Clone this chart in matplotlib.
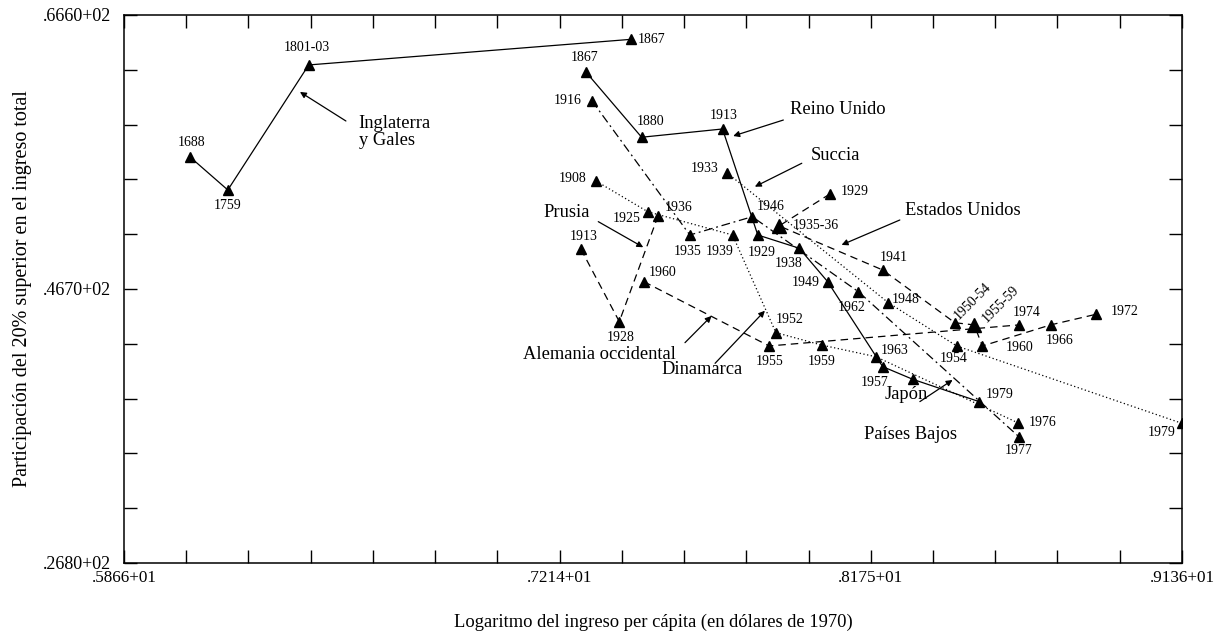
import numpy as np
import matplotlib.pyplot as plt

plt.rcParams['font.family'] = ['Liberation Serif', 'DejaVu Serif']

# Inglaterra y Gales
eng_x = [6.071, 6.187, 6.437, 7.433]
eng_y = [56.27, 53.89, 62.97, 64.83]
eng_lab = ['1688', '1759', '1801-03', '1867']

# Reino Unido
uk_x = [7.293, 7.466, 7.716, 7.825, 7.953, 8.041, 8.211, 8.304, 8.509]
uk_y = [62.48, 57.72, 58.32, 50.62, 49.66, 47.23, 41.06, 40.14, 38.52]
uk_lab = ['1867', '1880', '1913', '1929', '1938', '1949', '1957', '', '1979']

# Prusia
pru_x = [7.278, 7.397, 7.517]
pru_y = [49.61, 44.33, 52.02]
pru_lab = ['1913', '1928', '1936']

# Alemania occidental
wg_x = [7.473, 7.860, 8.632]
wg_y = [47.23, 42.56, 44.09]
wg_lab = ['1960', '1955', '1974']

# Estados Unidos
us_x = [8.048, 7.891, 8.211, 8.434, 8.494, 8.519, 8.730, 8.870]
us_y = [53.60, 51.28, 48.08, 44.25, 44.09, 42.56, 44.09, 44.86]
us_lab = ['1929', '1935-36', '1941', '1950-54', '1955-59', '1960', '1966', '1972']

# Dinamarca
den_x = [7.325, 7.485, 7.747, 7.881, 8.022, 8.190, 8.628]
den_y = [54.54, 52.31, 50.62, 43.53, 42.63, 41.78, 36.99]
den_lab = ['1908', '1925', '1939', '1952', '1959', '1963', '1976']

# Suecia
swe_x = [7.729, 8.228, 8.440, 9.135]
swe_y = [55.15, 45.71, 42.56, 36.95]
swe_lab = ['1933', '1948', '1954', '1979']

# Paises Bajos
nl_x = [7.312, 7.615, 7.808, 8.136, 8.632]
nl_y = [60.38, 50.62, 51.95, 46.50, 35.97]
nl_lab = ['1916', '1935', '1946', '1962', '1977']

# axis
x_min, x_max = 5.866, 9.136
y_min, y_max = 26.80, 66.60
x_ticklabels = ['.5866+01', '.7214+01', '.8175+01', '.9136+01']
y_ticklabels = ['.2680+02', '.4670+02', '.6660+02']

# label offsets in pixels (right, down)
eng_off = [(1, -15), (0, 16), (-2, -17), (21, 0)]
uk_off = [(-1, -14), (9, -16), (1, -13), (4, 17), (-11, 15), (-22, 1), (-8, 16), (0, 0), (21, -7)]
pru_off = [(3, -12), (1, 16), (20, -8)]
wg_off = [(19, -9), (1, 16), (8, -12)]
us_off = [(25, -2), (37, 0), (11, -12), (18, -22), (26, -21), (37, 2), (9, 16), (29, -3)]
den_off = [(-23, -3), (-21, 7), (-13, 16), (14, -13), (0, 16), (19, -6), (25, 0)]
swe_off = [(-22, -4), (18, -3), (-3, 13), (-20, 9)]
nl_off = [(-24, 0), (-2, 16), (18, -10), (-7, 16), (0, 14)]

series = [
    (eng_x, eng_y, eng_lab, eng_off, '-'),
    (uk_x, uk_y, uk_lab, uk_off, '-'),
    (pru_x, pru_y, pru_lab, pru_off, (0, (6, 4))),
    (wg_x, wg_y, wg_lab, wg_off, (0, (6, 4))),
    (us_x, us_y, us_lab, us_off, (0, (6, 4))),
    (den_x, den_y, den_lab, den_off, (0, (1, 2))),
    (swe_x, swe_y, swe_lab, swe_off, (0, (1, 2))),
    (nl_x, nl_y, nl_lab, nl_off, (0, (7, 3, 1.5, 3))),
]
big_marks = ['1935-36', '1955-59']
rotated = ['1950-54', '1955-59']

fig = plt.figure(figsize=(12.14, 6.37), dpi=100)
ax = fig.add_axes([0.1021, 0.1162, 0.8715, 0.8603])

px = 0.72
for xs, ys, labs, offs, ls in series:
    ax.plot(xs, ys, color='black', lw=0.9, linestyle=ls, zorder=2)
    for x, y, lab, (dx, dy) in zip(xs, ys, labs, offs):
        ms = 10 if lab in big_marks else 6.5
        ax.plot(x, y, marker='^', color='black', ms=ms, linestyle='none', zorder=3)
        if lab:
            rot = 45 if lab in rotated else 0
            ax.annotate(lab, (x, y), xytext=(dx * px, -dy * px), textcoords='offset points',
                        ha='center', va='center', fontsize=10, rotation=rot)

# country names and arrows: (text, text position, alignment, arrow tail, arrow head)
notes = [
    ('Inglaterra\ny Gales', (6.591, 58.10), 'left', (6.552, 58.90), (6.410, 61.01)),
    ('Reino Unido', (7.924, 59.70), 'left', (7.904, 58.97), (7.749, 57.81)),
    ('Succia', (7.989, 56.43), 'left', (7.961, 55.83), (7.816, 54.13)),
    ('Estados Unidos', (8.280, 52.37), 'left', (8.264, 51.71), (8.084, 49.90)),
    ('Prusia', (7.235, 52.29), 'center', (7.332, 51.59), (7.471, 49.73)),
    ('Alemania occidental', (7.337, 41.91), 'center', (7.600, 42.80), (7.682, 44.74)),
    ('Dinamarca', (7.652, 40.85), 'center', (7.693, 41.30), (7.847, 45.12)),
    ('Japón', (8.285, 39.00), 'center', None, None),
    ('Países Bajos', (8.297, 36.10), 'center', (8.326, 38.52), (8.427, 40.09)),
]
for txt, pos, ha, tail, head in notes:
    ax.text(pos[0], pos[1], txt, ha=ha, va='center', fontsize=13.3, linespacing=0.95)
    if tail is not None:
        ax.annotate('', xy=head, xytext=tail,
                    arrowprops=dict(arrowstyle='-|>', color='black', lw=0.9,
                                    mutation_scale=9, shrinkA=0, shrinkB=0))

ax.set_xlim(x_min, x_max)
ax.set_ylim(y_min, y_max)
xt = np.linspace(x_min, x_max, 18)
ax.set_xticks(xt)
ax.set_xticklabels([x_ticklabels[[0, 7, 12, 17].index(i)] if i in (0, 7, 12, 17) else ''
                    for i in range(18)])
yt = np.linspace(y_min, y_max, 11)
ax.set_yticks(yt)
ax.set_yticklabels([y_ticklabels[[0, 5, 10].index(i)] if i in (0, 5, 10) else ''
                    for i in range(11)])
ax.tick_params(direction='in', length=9.5, width=1, top=True, right=True,
               labelsize=13, pad=5)
ax.tick_params(axis='x', labelsize=12.3)
ax.tick_params(axis='y', pad=9)
for sp in ax.spines.values():
    sp.set_linewidth(1.1)

ax.set_xlabel('Logaritmo del ingreso per cápita (en dólares de 1970)', fontsize=13.3, labelpad=20)
ax.set_ylabel('Participación del 20% superior en el ingreso total', fontsize=14.5, labelpad=8)

fig.savefig('out.png', dpi=100)
